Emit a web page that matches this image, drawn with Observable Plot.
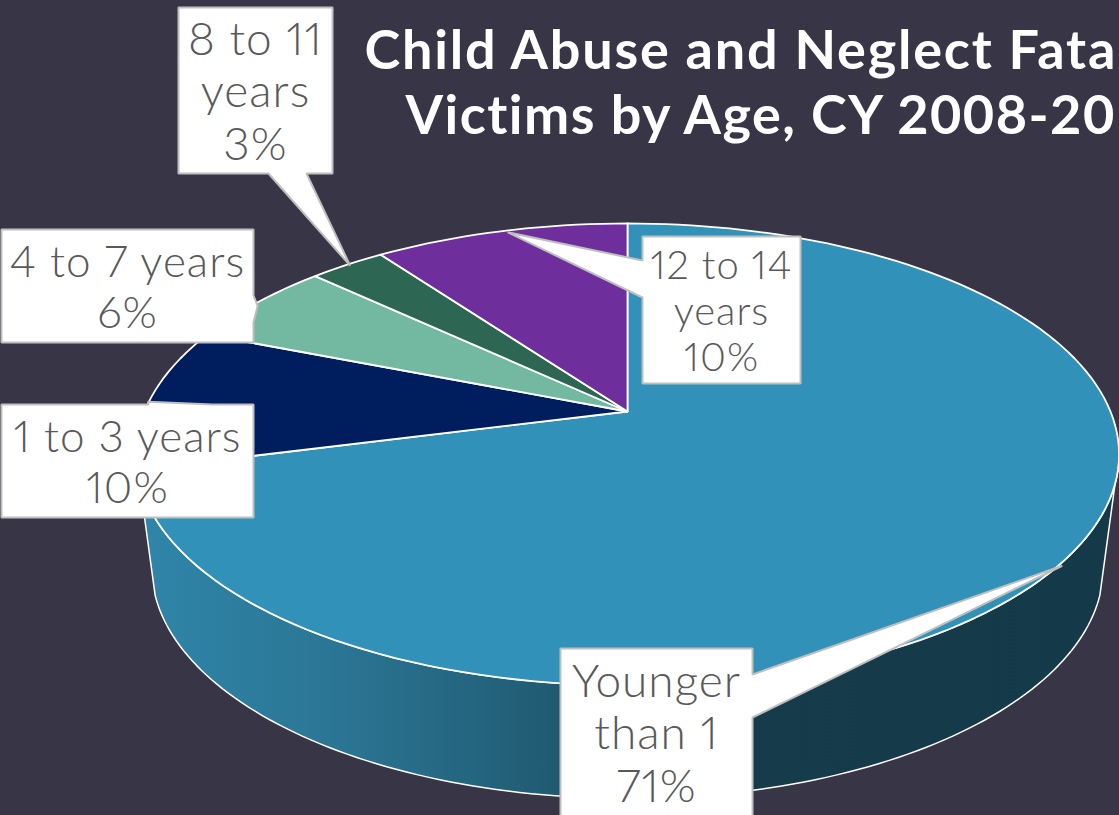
<!DOCTYPE html>
<html>
<head>
<meta charset="utf-8">
<script src="https://cdn.jsdelivr.net/npm/d3@7"></script>
<script src="https://cdn.jsdelivr.net/npm/@observablehq/plot@0.6"></script>
<style>
  html, body { margin: 0; padding: 0; background: #383546; overflow: hidden; }
  .headline-a text { letter-spacing: 1.8px; }
  .headline-b text { letter-spacing: 1.5px; }
  .callout-text text { letter-spacing: 1px; font-variant-numeric: proportional-nums; font-feature-settings: "pnum" 1; }
</style>
</head>
<body>
<script>
// Share of victims per age group, clockwise from twelve o'clock.
const ageGroups = ["Younger than 1", "1 to 3 years", "4 to 7 years", "8 to 11 years", "12 to 14 years"];
const shares = [71, 10, 6, 3, 10];
const wrappedLabels = ["Younger\nthan 1", "1 to 3 years", "4 to 7 years", "8 to 11\nyears", "12 to 14\nyears"];
const sliceColors = ["#3191b9", "#001e5e", "#73b9a2", "#2e6654", "#6e2e9c"];
const titleLines = ["Child Abuse and Neglect Fata", "Victims by Age, CY 2008-20"];

// Callout boxes in page pixels: [x1, y1, x2, y2], the side the pointer leaves from and its base.
const calloutBoxes = [[560, 648, 752, 816], [1, 404, 253, 517], [1, 229, 253, 342], [178, 7, 332, 173], [642, 236, 800, 383]];
const pointerSides = ["right", "top", "right", "bottom", "left"];
const pointerBases = [[674, 717], [148, 212], [295, 322], [268, 306], [260, 297]];
const tipNudges = [[4, 0], [-3, 4], [1, 3], [3, 1], [7, 1]];
const labelSizes = [46, 44, 44, 46, 40];

// Perspective disc: apex position, radii and foreshortening of the far edge.
const disc = {x: 627, y: 411, rx: 483, ry: 223, tilt: 0.186};
const wall = {drop: 113, shrink: 0.968};

const project = (angle, drop = 0, shrink = 1) => {
  const u = Math.sin(angle), v = Math.cos(angle), d = 1 + disc.tilt * v;
  return {x: disc.x + shrink * disc.rx * u / d, y: disc.y + drop - disc.ry * v / d};
};
const sweep = (a0, a1, steps) => d3.range(steps + 1).map((i) => a0 + (a1 - a0) * i / steps);
const deg = Math.PI / 180;

const arcs = d3.pie().sort(null).startAngle(0).endAngle(2 * Math.PI)(shares);

const slicePoints = arcs.flatMap((arc, i) => [
  {name: ageGroups[i], x: disc.x, y: disc.y},
  ...sweep(arc.startAngle, arc.endAngle, Math.ceil(shares[i] * 2)).map((a) => ({name: ageGroups[i], ...project(a)}))
]);

const wallPoints = [
  ...sweep(100.7 * deg, 259.3 * deg, 120).map((a) => project(a)),
  ...sweep(252.5 * deg, 107.5 * deg, 120).map((a) => project(a, wall.drop, wall.shrink))
];

const calloutPoints = arcs.flatMap((arc, i) => {
  const [x1, y1, x2, y2] = calloutBoxes[i];
  const [b0, b1] = pointerBases[i];
  const rim = project((arc.startAngle + arc.endAngle) / 2);
  const tip = {x: rim.x + tipNudges[i][0], y: rim.y + tipNudges[i][1]};
  const tl = {x: x1, y: y1}, tr = {x: x2, y: y1}, br = {x: x2, y: y2}, bl = {x: x1, y: y2};
  const outline = {
    top: [tl, {x: b0, y: y1}, tip, {x: b1, y: y1}, tr, br, bl],
    right: [tl, tr, {x: x2, y: b0}, tip, {x: x2, y: b1}, br, bl],
    bottom: [tl, tr, br, {x: b1, y: y2}, tip, {x: b0, y: y2}, bl],
    left: [tl, tr, br, bl, {x: x1, y: b1}, tip, {x: x1, y: b0}]
  }[pointerSides[i]];
  return outline.map((p) => ({name: ageGroups[i], ...p}));
});

const calloutLabels = ageGroups.map((name, i) => ({
  text: `${wrappedLabels[i]}\n${shares[i]}%`,
  x: (calloutBoxes[i][0] + calloutBoxes[i][2]) / 2,
  y: (calloutBoxes[i][1] + calloutBoxes[i][3]) / 2,
  size: labelSizes[i]
}));

// Side wall shading runs from the lit left edge to the dark right edge.
const wallShade = () => {
  const defs = d3.create("svg:defs");
  const gradient = defs.append("linearGradient")
    .attr("id", "wallShade").attr("gradientUnits", "userSpaceOnUse")
    .attr("x1", 143).attr("x2", 1119).attr("y1", 0).attr("y2", 0);
  [[0, "#2f85a8"], [0.2, "#2b7594"], [0.42, "#205b72"], [0.62, "#163c4c"], [1, "#143a4a"]]
    .forEach(([o, c]) => gradient.append("stop").attr("offset", o).attr("stop-color", c));
  return defs.node();
};

const titleText = (line, x, y, className) =>
  Plot.text([line], {x: [x], y: [y], text: (d) => d, textAnchor: "start", fontSize: 54, fill: "white", fontFamily: "Lato", fontWeight: 700, className});

const chart = Plot.plot({
  width: 1119,
  height: 815,
  margin: 0,
  style: {background: "#383546"},
  x: {domain: [0, 1119], range: [0, 1119], axis: null},
  y: {domain: [0, 815], range: [0, 815], axis: null},
  color: {domain: ageGroups, range: sliceColors},
  marks: [
    wallShade,
    Plot.line(wallPoints, {x: "x", y: "y", curve: "linear-closed", fill: "url(#wallShade)", stroke: "white", strokeWidth: 1.5}),
    Plot.line(slicePoints, {x: "x", y: "y", z: "name", curve: "linear-closed", fill: "name", stroke: "white", strokeWidth: 1.8, strokeLinejoin: "round"}),
    Plot.line(calloutPoints, {x: "x", y: "y", z: "name", curve: "linear-closed", fill: "white", stroke: "#bfbfbf", strokeWidth: 2, strokeLinejoin: "miter"}),
    Plot.text(calloutLabels, {x: "x", y: "y", text: "text", fontSize: "size", lineHeight: 1.15, fill: "#595959", fontFamily: "Lato", fontWeight: 300, className: "callout-text"}),
    titleText(titleLines[0], 364, 51, "headline-a"),
    titleText(titleLines[1], 405, 116, "headline-b")
  ]
});
document.body.appendChild(chart);
</script>
</body>
</html>
